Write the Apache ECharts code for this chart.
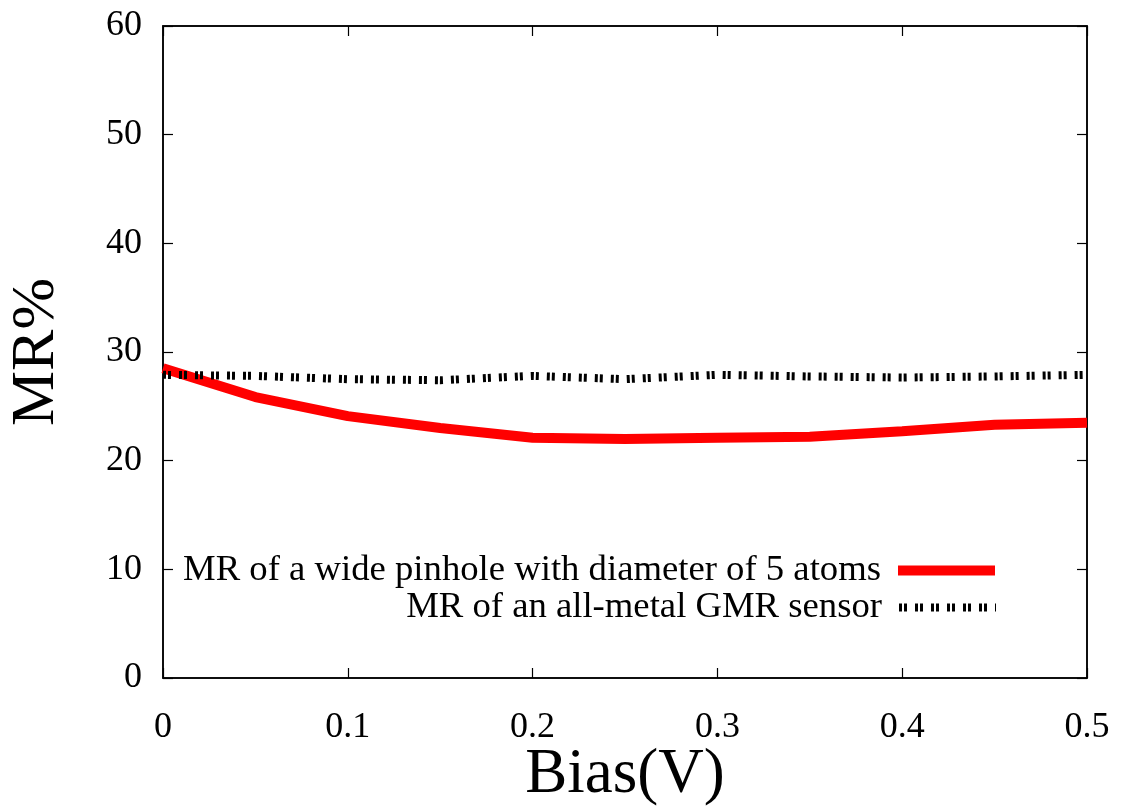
<!DOCTYPE html>
<html>
<head>
<meta charset="utf-8">
<script src="https://cdn.jsdelivr.net/npm/echarts@6/dist/echarts.min.js"></script>
<style>
  html, body { margin: 0; padding: 0; background: #fff; }
  #chart { width: 1128px; height: 806px; }
</style>
</head>
<body>
<div id="chart"></div>
<script>
// Bias voltage (V)
const bias = [0, 0.05, 0.1, 0.15, 0.2, 0.25, 0.3, 0.35, 0.4, 0.45, 0.5];
// MR (%) of a pinhole 5 atoms wide
const mrPinhole = [28.5, 25.85, 24.1, 23.0, 22.1, 22.0, 22.1, 22.2, 22.7, 23.3, 23.5];
// MR (%) of an all-metal GMR sensor
const mrGmr = [27.9, 27.8, 27.5, 27.4, 27.8, 27.5, 27.9, 27.75, 27.65, 27.75, 27.9];

const nameA = 'MR of a wide pinhole with diameter of 5 atoms';
const nameB = 'MR of an all-metal GMR sensor';

const FONT = '"Liberation Serif", "Times New Roman", serif';

const redLine = { color: '#ff0000', width: 10 };
const dashLine = { color: '#000', width: 8, type: [3, 2, 3, 8], cap: 'butt' };

const chart = echarts.init(document.getElementById('chart'));

// fresh style objects for every axis, ticks pointing into the plot
function axisLine() { return { show: true, onZero: false, lineStyle: { color: '#000', width: 1.5 } }; }
function tick() { return { show: true, inside: true, length: 10, lineStyle: { color: '#000', width: 1.2 } }; }

function legendAt(name, top, lineStyle) {
  return {
    data: [name],
    right: 128,
    top: top,
    align: 'right',
    padding: 0,
    itemWidth: 97,
    itemHeight: 14,
    itemGap: 0,
    selectedMode: false,
    itemStyle: { opacity: 0 },
    lineStyle: Object.assign({}, lineStyle),
    textStyle: { fontFamily: FONT, fontSize: 36.7, color: '#000', padding: [0, 12, 0, 0] }
  };
}

chart.setOption({
  animation: false,
  backgroundColor: '#fff',
  grid: {
    left: 163, right: 41, top: 26, bottom: 128,
    outerBoundsMode: 'none', containLabel: false,
    show: true, borderColor: '#000', borderWidth: 1.5
  },
  legend: [legendAt(nameA, 552, redLine), legendAt(nameB, 589, dashLine)],
  xAxis: [
    {
      type: 'value', min: 0, max: 0.5, interval: 0.1, position: 'bottom',
      name: 'Bias(V)', nameLocation: 'middle', nameGap: 66, nameMoveOverlap: false,
      nameTextStyle: { fontFamily: FONT, fontSize: 63, color: '#000' },
      axisLine: axisLine(), axisTick: tick(),
      axisLabel: { fontFamily: FONT, fontSize: 36, color: '#000', margin: 32 },
      splitLine: { show: false }
    },
    {
      type: 'value', min: 0, max: 0.5, interval: 0.1, position: 'top',
      axisLine: axisLine(), axisTick: tick(), axisLabel: { show: false }, splitLine: { show: false }
    }
  ],
  yAxis: [
    {
      type: 'value', min: 0, max: 60, interval: 10, position: 'left',
      name: 'MR%', nameLocation: 'middle', nameGap: 95, nameRotate: 90,
      nameTextStyle: { fontFamily: FONT, fontSize: 62, color: '#000' },
      axisLine: axisLine(), axisTick: tick(),
      axisLabel: { fontFamily: FONT, fontSize: 36, color: '#000', margin: 21 },
      splitLine: { show: false }
    },
    {
      type: 'value', min: 0, max: 60, interval: 10, position: 'right',
      axisLine: axisLine(), axisTick: tick(), axisLabel: { show: false }, splitLine: { show: false }
    }
  ],
  series: [
    {
      name: nameA, type: 'line', xAxisIndex: 0, yAxisIndex: 0,
      data: bias.map((b, i) => [b, mrPinhole[i]]),
      showSymbol: false, symbol: 'none', z: 2,
      lineStyle: redLine,
      itemStyle: { color: '#ff0000' }
    },
    {
      name: nameB, type: 'line', xAxisIndex: 0, yAxisIndex: 0,
      data: bias.map((b, i) => [b, mrGmr[i]]),
      showSymbol: false, symbol: 'none', z: 3,
      lineStyle: dashLine,
      itemStyle: { color: '#000' }
    }
  ]
});
</script>
</body>
</html>
